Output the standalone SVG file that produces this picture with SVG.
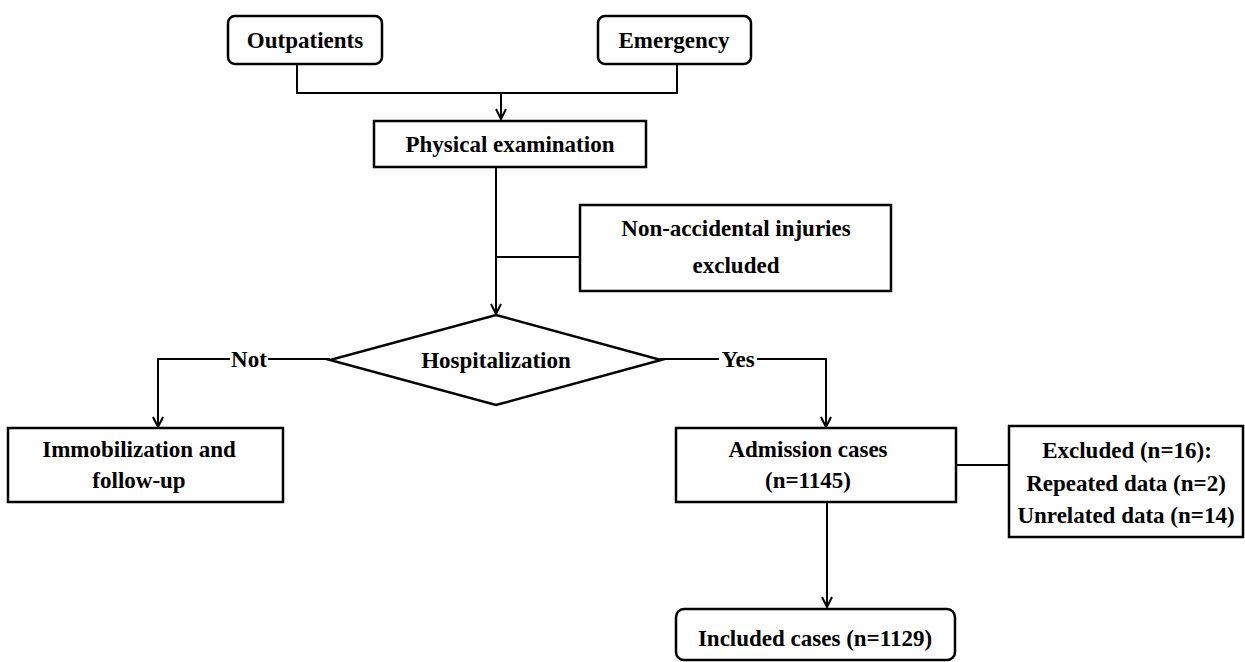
<svg xmlns="http://www.w3.org/2000/svg" width="1245" height="662" viewBox="0 0 1245 662">
<style>
  .box { fill: #fff; stroke: #000; stroke-width: 2.5; }
  .ln { fill: none; stroke: #000; stroke-width: 2; }
  text { font-family: "Liberation Serif", "Times New Roman", serif; font-weight: bold; font-size: 23px; fill: #000; text-anchor: middle; }
</style>
<defs>
  <marker id="arr" viewBox="0 0 12 12" refX="11" refY="6" markerWidth="12" markerHeight="12" markerUnits="userSpaceOnUse" orient="auto">
    <path d="M1,1 L11,6 L1,11" fill="none" stroke="#000" stroke-width="2"/>
  </marker>
</defs>
<rect width="1245" height="662" fill="#fff"/>
<g id="connectors">
  <path class="ln" d="M297,64 V93 H677 V64"/>
  <path class="ln" d="M501,93 V119" marker-end="url(#arr)"/>
  <path class="ln" d="M496,167 V314" marker-end="url(#arr)"/>
  <path class="ln" d="M496,257 H580"/>
  <path class="ln" d="M330,359 H268"/>
  <path class="ln" d="M230,359 H158 V427" marker-end="url(#arr)"/>
  <path class="ln" d="M660,359 H719"/>
  <path class="ln" d="M757,359 H826 V427" marker-end="url(#arr)"/>
  <path class="ln" d="M956,465 H1009"/>
  <path class="ln" d="M827,502 V607" marker-end="url(#arr)"/>
  <text x="249" y="367">Not</text>
  <text x="738" y="367">Yes</text>
</g>
<g id="outpatients">
  <rect class="box" x="228" y="16" width="154" height="48" rx="7"/>
  <text x="305" y="48">Outpatients</text>
</g>
<g id="emergency">
  <rect class="box" x="598" y="16" width="153" height="48" rx="7"/>
  <text x="674" y="48">Emergency</text>
</g>
<g id="physical">
  <rect class="box" x="374" y="121" width="272" height="46"/>
  <text x="510" y="152">Physical examination</text>
</g>
<g id="nonaccidental">
  <rect class="box" x="580" y="205" width="311" height="86"/>
  <text x="736" y="236">Non-accidental injuries</text>
  <text x="736" y="273">excluded</text>
</g>
<g id="hospitalization">
  <polygon class="box" points="496,315 661,360 496,405 330,360"/>
  <text x="496" y="368">Hospitalization</text>
</g>
<g id="immobilization">
  <rect class="box" x="8" y="428" width="275" height="74"/>
  <text x="139" y="457">Immobilization and</text>
  <text x="139" y="488">follow-up</text>
</g>
<g id="admission">
  <rect class="box" x="676" y="428" width="280" height="74"/>
  <text x="808" y="457">Admission cases</text>
  <text x="808" y="488">(n=1145)</text>
</g>
<g id="excluded">
  <rect class="box" x="1009" y="426" width="234" height="111"/>
  <text x="1127" y="458">Excluded (n=16):</text>
  <text x="1126" y="491">Repeated data (n=2)</text>
  <text x="1126" y="523">Unrelated data (n=14)</text>
</g>
<g id="included">
  <rect class="box" x="676" y="609" width="279" height="51" rx="8"/>
  <text x="815" y="646">Included cases (n=1129)</text>
</g>
</svg>
